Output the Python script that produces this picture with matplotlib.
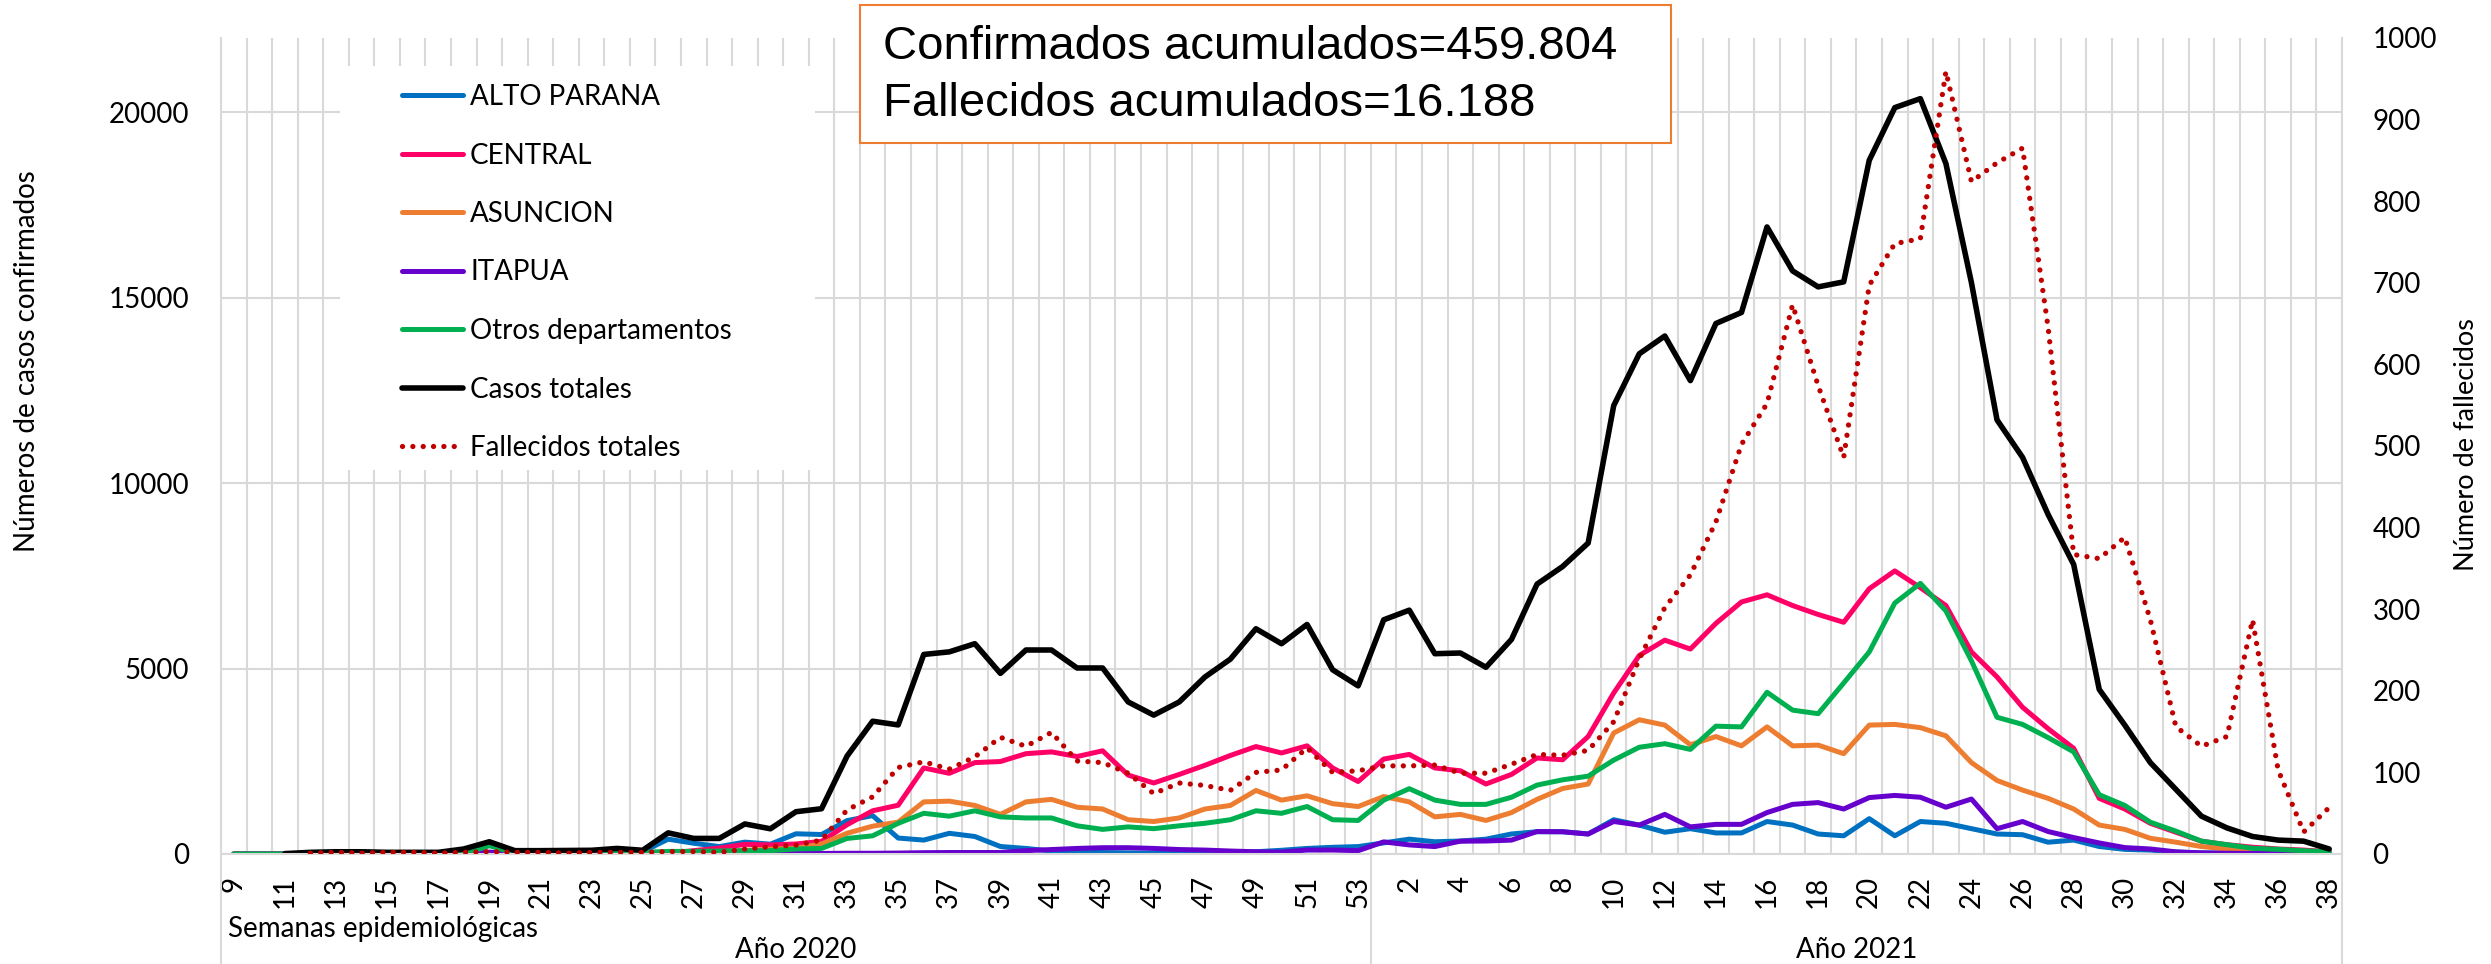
import numpy as np
import matplotlib.pyplot as plt
from matplotlib.patches import Rectangle

plt.rcParams["font.family"] = ["Lato", "DejaVu Sans"]

# semanas epidemiologicas: 2020 (9-53) y 2021 (1-38)
weeks_2020 = list(range(9, 54))
weeks_2021 = list(range(1, 39))
weeks = weeks_2020 + weeks_2021

nan = np.nan

alto_parana = [0, 0, 0, 0, 0, 0, 0, 0, 0, 5,
               30, 5, 5, 5, 10, 10, 63,
               400, 290, 200, 320, 265, 545, 525, 900, 1035, 430,
               375, 558, 472, 202, 150, 80, 60, 40, 30, 20,
               30, 50, 60, 60, 100, 150, 180, 200] + \
              [300, 400, 330, 350, 400, 540, 600, 600, 540, 924,
               780, 587, 683, 568, 568, 876, 780, 539, 491, 953,
               491, 876, 828, 683, 539, 520, 318, 375, 202, 125,
               106, 50, 30, 20, 15, 10, 8, 5]

central = [0, 0, 0, 0, 0, 0, 0, 0, 0, 0,
           30, 5, 5, 5, 10, 10, 15,
           20, 90, 160, 260, 245, 270, 340, 790, 1165, 1315,
           2320, 2175, 2464, 2493, 2705, 2753, 2628, 2782, 2127, 1915,
           2146, 2390, 2657, 2897, 2724, 2916, 2320, 1954] + \
          [2560, 2685, 2320, 2243, 1887, 2146, 2589, 2540, 3167, 4341,
           5352, 5765, 5525, 6218, 6795, 6988, 6699, 6458, 6247, 7151,
           7633, 7180, 6699, 5448, 4774, 3956, 3378, 2849, 1500, 1213,
           828, 587, 346, 250, 183, 135, 106, 58]

asuncion = [0, 0, 0, 0, 0, 0, 0, 0, 0, 0,
            20, 5, 5, 5, 5, 10, 10, 20, 40, 60,
            100, 130, 160, 270, 560, 750, 860,
            1405, 1425, 1309, 1068, 1405, 1473, 1261, 1213, 924, 876,
            972, 1213, 1309, 1713, 1453, 1569, 1357, 1280] + \
           [1550, 1405, 1001, 1068, 905, 1117, 1473, 1766, 1887, 3263,
            3619, 3475, 2945, 3167, 2916, 3427, 2916, 2936, 2705, 3475,
            3494, 3407, 3186, 2464, 1983, 1723, 1500, 1213, 780, 664,
            424, 318, 202, 135, 106, 87, 58, 29]

itapua = [0, 0, 0, 0, 0, 0, 0, 0, 0, 0,
          50, 5, 5, 5, 5, 5, 5, 5, 10, 10, 10, 10, 15, 15,
          20, 20, 25, 35, 40, 40, 40,
          90, 120, 150, 170, 170, 150, 120, 106, 80, 60, 50, 106, 106, 90] + \
         [327, 245, 200, 346, 350, 375, 606, 600, 539, 876,
          780, 1068, 731, 799, 799, 1117, 1338, 1386, 1213, 1521,
          1579, 1530, 1261, 1482, 683, 876, 606, 443, 298, 173,
          135, 58, 30, 20, 15, 10, 8, 5]

otros = [0, 0, 0, 0, 0, 0, 0, 0, 0, 0,
         225, 20, 20, 30, 40, 50, 40,
         70, 70, 80, 90, 90, 135, 150,
         420, 490, 828, 1097, 1020, 1165, 1001, 972, 972, 760, 664,
         731, 683, 760, 828, 924, 1165, 1097, 1280, 924, 905] + \
        [1453, 1761, 1453, 1338, 1338, 1530, 1858, 2000, 2098, 2531,
         2878, 2974, 2820, 3446, 3427, 4360, 3879, 3783, 4610, 5448,
         6766, 7296, 6555, 5207, 3686, 3494, 3138, 2753, 1598, 1309,
         857, 616, 346, 250, 154, 125, 87, 58]

casos_totales = [nan, nan, 10, 45, 60, 60, 45, 45, 45, 135,
                 330, 90, 90, 95, 100, 150, 100, 570, 420, 420,
                 810, 680, 1140, 1220, 2640, 3580, 3480, 5380, 5450, 5670,
                 4870, 5500, 5500, 5015, 5015, 4100, 3744, 4100, 4770, 5255,
                 6073, 5669, 6189, 4967, 4533] + \
                [6314, 6574, 5400, 5419, 5034, 5785, 7277, 7750, 8383, 12089,
                 13485, 13966, 12763, 14303, 14600, 16906, 15721, 15290, 15425, 18703,
                 20123, 20365, 18614, 15400, 11704, 10693, 9153, 7806, 4437, 3475,
                 2464, 1742, 1020, 703, 472, 375, 346, 135]

fallecidos = [nan, nan, nan, 1, 2, 1, 2, 2, 1, 2,
              3, 2, 2, 1, 2, 2, 2, 3, 3, 2,
              6, 9, 11, 17, 54, 70, 106, 113, 104, 119,
              143, 132, 149, 114, 112, 99, 74, 87, 84, 78,
              100, 103, 130, 100, 102] + \
             [108, 108, 109, 99, 99, 110, 122, 121, 127, 162,
              239, 302, 342, 407, 502, 552, 673, 574, 486, 697,
              748, 754, 959, 824, 847, 865, 645, 367, 362, 388,
              287, 156, 132, 144, 287, 103, 27, 57]

W, H = 2491, 964
grid_c = "#d9d9d9"
fs = 20

fig = plt.figure(figsize=(W / 100, H / 100), dpi=100)
ax = fig.add_axes([221 / W, 1 - 854 / H, (2342 - 221) / W, (854 - 38) / H])
ax2 = ax.twinx()

x = np.arange(len(weeks))
series = [
    ("ALTO PARANA", alto_parana, "#0070C0", 3.6),
    ("CENTRAL", central, "#FF0066", 3.6),
    ("ASUNCION", asuncion, "#ED7D31", 3.6),
    ("ITAPUA", itapua, "#6600CC", 3.6),
    ("Otros departamentos", otros, "#00B050", 3.6),
    ("Casos totales", casos_totales, "black", 4.0),
]
handles = []
for name, vals, col, lw in series:
    h, = ax.plot(x, vals, color=col, lw=lw, label=name, zorder=2,
                 solid_joinstyle="round", solid_capstyle="round")
    handles.append(h)
hf, = ax2.plot(x, fallecidos, color="#C00000", lw=3.8, linestyle=(0, (0.01, 1.95)),
               dash_capstyle="round", label="Fallecidos totales")
handles.append(hf)

ax.set_xlim(-0.5, len(weeks) - 0.5)
ax.set_ylim(0, 22000)
ax2.set_ylim(0, 1000)

ax.set_xticks(x[::2])
ax.set_xticklabels([str(w) for w in weeks[::2]], rotation=90)
ax.set_xticks(np.arange(-0.5, len(weeks), 1), minor=True)
ax.set_yticks(range(0, 20001, 5000))
ax2.set_yticks(range(0, 1001, 100))

ax.tick_params(axis="x", which="both", length=0, pad=16, labelsize=fs)
ax.tick_params(axis="y", length=0, pad=23, labelsize=fs)
ax2.tick_params(axis="y", length=0, pad=22, labelsize=fs)

ax.set_axisbelow(True)
ax.grid(which="minor", axis="x", color=grid_c, lw=1.5)
ax.grid(which="major", axis="y", color=grid_c, lw=1.5)
ax.grid(which="major", axis="x", visible=False)

for a in (ax, ax2):
    for s in a.spines.values():
        s.set_visible(False)
ax.spines["bottom"].set_visible(True)
ax.spines["bottom"].set_color(grid_c)
ax.spines["bottom"].set_linewidth(1.5)

# lineas verticales del eje de categorias (se extienden bajo las etiquetas)
for xb, top in ((-0.5, 1), (44.5, 0), (len(weeks) - 0.5, 1)):
    ax.plot([xb, xb], [top, -0.14], transform=ax.get_xaxis_transform(),
            color=grid_c, lw=1.5, clip_on=False, zorder=1)

# fondo blanco de la leyenda
ax.add_patch(Rectangle((340 / W, 1 - 470 / H), 475 / W, 404 / H,
                       transform=fig.transFigure, facecolor="white",
                       edgecolor="none", zorder=1))
ax.legend(handles=handles, loc="upper left", bbox_to_anchor=(402 / W, 1 - 84 / H),
          bbox_transform=fig.transFigure, frameon=False, fontsize=fs,
          handlelength=2.2, handletextpad=0.25, labelspacing=1.17,
          borderpad=0, borderaxespad=0)

fig.text(27 / W, 1 - 361 / H, "Números de casos confirmados", rotation=90,
         ha="center", va="center", fontsize=20)
fig.text(2467 / W, 1 - 445 / H, "Número de fallecidos", rotation=90,
         ha="center", va="center", fontsize=19.5)

fig.text(228 / W, 1 - 929 / H, "Semanas epidemiológicas", ha="left",
         va="center", fontsize=fs)
ax.text(22, -0.1176, "Año 2020", transform=ax.get_xaxis_transform(),
        ha="center", va="center", fontsize=fs)
ax.text(63.5, -0.1176, "Año 2021", transform=ax.get_xaxis_transform(),
        ha="center", va="center", fontsize=fs)

# cuadro de totales acumulados
fig.add_artist(Rectangle((860 / W, 1 - 143 / H), 811 / W, 138 / H,
                         transform=fig.transFigure, facecolor="white",
                         edgecolor="#ED7D31", lw=1.5))
fig.text(883 / W, 1 - 47 / H, "Confirmados acumulados=459.804",
         family="Liberation Sans", fontsize=34, va="center", ha="left")
fig.text(883 / W, 1 - 104 / H, "Fallecidos acumulados=16.188",
         family="Liberation Sans", fontsize=34, va="center", ha="left")

fig.savefig("out.png", dpi=100)
